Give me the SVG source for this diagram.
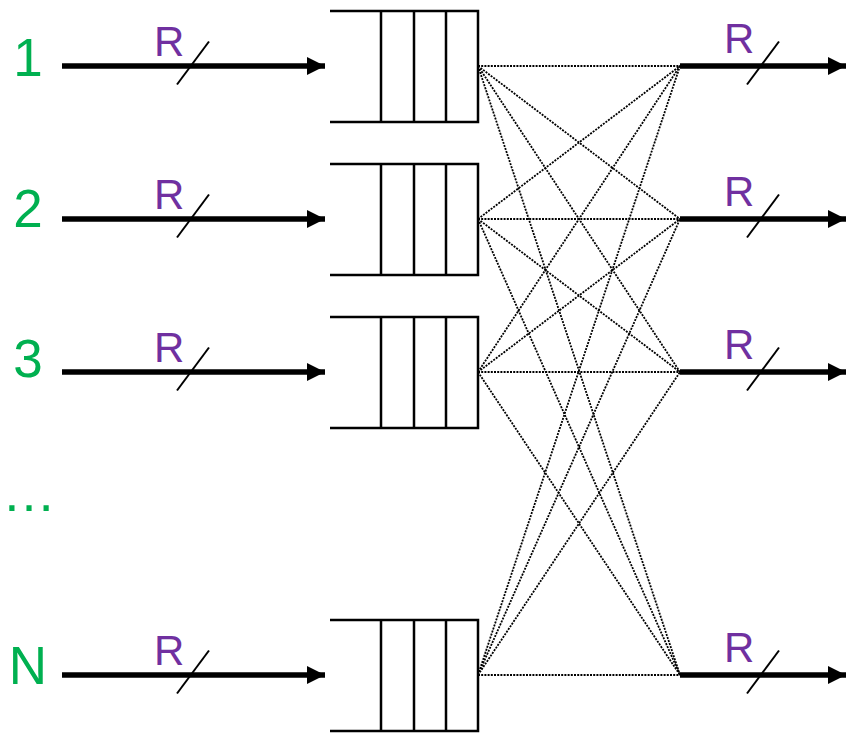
<svg xmlns="http://www.w3.org/2000/svg" width="846" height="733" viewBox="0 0 846 733">
<style>
.num{font-family:"Liberation Sans",Arial,sans-serif;font-size:53px;fill:#00B050;text-anchor:middle}
.r{font-family:"Liberation Sans",Arial,sans-serif;font-size:42px;fill:#7030A0}
.ln{stroke:#000;stroke-width:5.5;fill:none}
.sl{stroke:#000;stroke-width:2;fill:none}
.q{stroke:#000;stroke-width:2.5;fill:none}
.dot{stroke:#000;stroke-width:1.8;stroke-dasharray:2 1.2;fill:none}
</style>
<defs>
<marker id="ah" markerUnits="userSpaceOnUse" markerWidth="18" markerHeight="18" refX="18" refY="9" orient="auto" viewBox="0 0 18 18">
<path d="M0,0 L18,9 L0,18 Z" fill="#000"/>
</marker>
</defs>
<g id="connectors">
<path class="dot" d="M478,66 L680,66 M478,66 L680,219 M478,66 L680,372 M478,66 L680,675"/>
<path class="dot" d="M478,219 L680,66 M478,219 L680,219 M478,219 L680,372 M478,219 L680,675"/>
<path class="dot" d="M478,372 L680,66 M478,372 L680,219 M478,372 L680,372 M478,372 L680,675"/>
<path class="dot" d="M478,675 L680,66 M478,675 L680,219 M478,675 L680,372 M478,675 L680,675"/>
</g>
<g id="input1">
<text class="num" x="28" y="76">1</text>
<line class="ln" x1="62" y1="66" x2="325" y2="66" marker-end="url(#ah)"/>
<text class="r" x="154" y="56">R</text>
<line class="sl" x1="177" y1="84.5" x2="209" y2="41.5"/>
</g>
<g id="input2">
<text class="num" x="28" y="227">2</text>
<line class="ln" x1="62" y1="219" x2="325" y2="219" marker-end="url(#ah)"/>
<text class="r" x="154" y="209">R</text>
<line class="sl" x1="177" y1="237.5" x2="209" y2="194.5"/>
</g>
<g id="input3">
<text class="num" x="28" y="377">3</text>
<line class="ln" x1="62" y1="372" x2="325" y2="372" marker-end="url(#ah)"/>
<text class="r" x="154" y="362">R</text>
<line class="sl" x1="177" y1="390.5" x2="209" y2="347.5"/>
</g>
<g id="ellipsis">
<text x="2" y="511" style="font-family:'Liberation Sans',Arial,sans-serif;font-size:54px;fill:#00B050">…</text>
</g>
<g id="inputN">
<text class="num" x="28" y="684">N</text>
<line class="ln" x1="62" y1="675" x2="325" y2="675" marker-end="url(#ah)"/>
<text class="r" x="154" y="665">R</text>
<line class="sl" x1="177" y1="693.5" x2="209" y2="650.5"/>
</g>
<g id="queue1">
<path class="q" d="M330,11 H478 V122 H330 M381,11 V122 M414,11 V122 M446,11 V122"/>
</g>
<g id="queue2">
<path class="q" d="M330,164 H478 V275 H330 M381,164 V275 M414,164 V275 M446,164 V275"/>
</g>
<g id="queue3">
<path class="q" d="M330,317 H478 V428 H330 M381,317 V428 M414,317 V428 M446,317 V428"/>
</g>
<g id="queueN">
<path class="q" d="M330,620 H478 V731 H330 M381,620 V731 M414,620 V731 M446,620 V731"/>
</g>
<g id="output1">
<line class="ln" x1="680" y1="66" x2="846" y2="66" marker-end="url(#ah)"/>
<text class="r" x="724" y="53">R</text>
<line class="sl" x1="747" y1="84.5" x2="779" y2="41.5"/>
</g>
<g id="output2">
<line class="ln" x1="680" y1="219" x2="846" y2="219" marker-end="url(#ah)"/>
<text class="r" x="724" y="206">R</text>
<line class="sl" x1="747" y1="237.5" x2="779" y2="194.5"/>
</g>
<g id="output3">
<line class="ln" x1="680" y1="372" x2="846" y2="372" marker-end="url(#ah)"/>
<text class="r" x="724" y="359">R</text>
<line class="sl" x1="747" y1="390.5" x2="779" y2="347.5"/>
</g>
<g id="outputN">
<line class="ln" x1="680" y1="675" x2="846" y2="675" marker-end="url(#ah)"/>
<text class="r" x="724" y="662">R</text>
<line class="sl" x1="747" y1="693.5" x2="779" y2="650.5"/>
</g>
</svg>
